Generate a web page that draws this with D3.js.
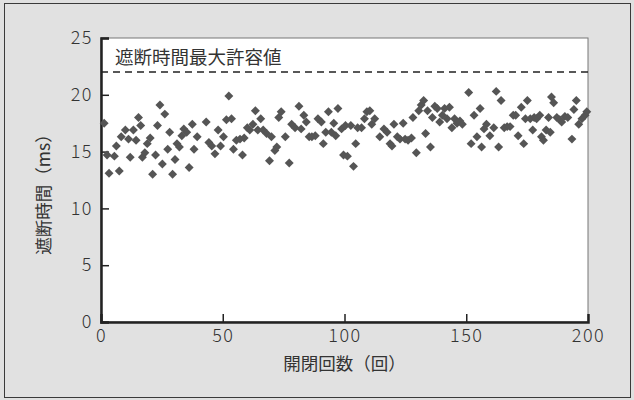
<!DOCTYPE html>
<html>
<head>
<meta charset="utf-8">
<script src="https://cdnjs.cloudflare.com/ajax/libs/d3/7.8.5/d3.min.js"></script>
<style>
  body { margin: 0; background: #e0e0e0; }
  svg { display: block; }
  text { font-family: "Noto Sans CJK JP", "Noto Sans", sans-serif; fill: #333; }
</style>
</head>
<body>
<svg id="chart"></svg>
<script>
// open/close cycle number and break time (ms)
var cycles = [1.3,2.5,3.3,5.5,6.3,7.5,8.3,10,11.3,12,13.3,14.4,15.4,16.3,17,18,19,20.2,21.2,22.4,
  23.2,24.2,25.2,26.2,27.4,28.2,29.4,30.4,31.2,32.2,33.2,34,35.2,36.2,37.5,38.2,39.5,43.2,44.3,45.5,
  46.8,48.1,49.1,50.3,51.5,52.5,53.6,54.4,55.6,57.1,58.1,58.8,60.1,61.1,62.4,63.4,64.4,65.6,66.6,68,
  69.2,70,71.4,72.2,73,74,75.7,77.3,78.3,79.7,81.3,82.2,83.3,84.3,85.5,86.6,88,89.1,90.5,91.3,
  92.3,93.4,94.6,95.6,96.4,97.3,98.8,99.6,100.4,101.2,102.6,103.7,104.6,105.4,107,108.2,109.2,110.4,111.2,112.4,
  114.5,116.2,117.5,118.7,119.5,120.3,121.7,122.8,124.1,124.9,126.1,127.5,128.1,129.5,130.5,131.5,132.5,133.3,134.1,135.3,
  136.1,137.1,138.1,139.1,140.2,141.1,142.1,143.1,144.1,145.2,146.2,147.4,148.4,151,152,153.2,154.4,155.7,156.3,157.3,
  158.3,159.7,161.3,162.3,163.3,164.3,165.6,166.8,168,169.3,170.3,171.3,172.6,173.6,174.3,175.1,176.3,177.3,177.9,178.9,
  180.2,180.9,181.7,182.8,183.8,184.5,185,185.9,187.2,188.4,189.2,190.5,191.7,193.4,194.2,195.2,196.2,197.5,198.8,199.5];
var breakTimes = [17.5,14.7,13.1,14.6,15.5,13.3,16.3,16.9,16.1,14.5,16.9,16.0,18.0,17.3,14.5,14.9,15.7,16.2,13.0,14.7,
  17.3,19.1,13.9,18.3,15.2,16.7,13.0,14.3,15.7,15.4,16.4,17.0,16.7,13.6,17.4,15.2,16.3,17.6,15.8,15.5,
  14.8,16.9,15.5,16.3,17.8,19.9,17.9,15.2,16.0,16.1,14.7,16.2,17.1,16.9,17.4,18.6,16.9,17.9,16.9,16.6,
  14.2,16.3,15.1,15.4,18.0,18.5,16.3,14.0,17.4,17.1,19.0,17.0,18.2,17.6,16.3,16.3,16.4,17.9,17.6,15.7,
  16.7,18.5,16.7,17.5,16.4,18.8,17.0,14.7,17.3,14.6,17.3,13.7,15.7,17.1,17.1,17.9,18.5,18.6,17.4,17.9,
  16.3,17.0,16.7,15.7,15.5,17.4,16.3,16.1,17.5,16.1,16.0,16.2,18.0,14.9,18.6,19.1,19.5,16.6,18.6,15.4,
  18.0,19.0,18.8,17.6,18.2,18.8,17.9,18.9,17.1,17.9,17.5,17.7,17.4,20.2,15.7,18.2,16.3,18.8,15.4,17.0,
  17.4,16.4,17.1,20.3,15.4,19.5,17.1,17.2,17.2,18.2,18.2,16.4,18.9,15.7,17.9,19.5,17.9,16.9,18.0,17.9,
  18.2,16.3,16.0,16.9,18.0,16.7,19.8,19.3,18.0,17.8,17.6,18.1,18.0,16.1,18.7,19.5,17.4,17.9,18.2,18.5];

var xTicks = [0, 50, 100, 150, 200];
var yTicks = [0, 5, 10, 15, 20, 25];
var limitValue = 22;
var limitLabel = "遮断時間最大許容値";

var w = 634, h = 400;
var margin = {top: 38, right: 46, bottom: 78, left: 101};

var svg = d3.select("#chart")
    .attr("width", w)
    .attr("height", h);

// panel frame
svg.append("rect")
    .attr("x", 4.5)
    .attr("y", 3.5)
    .attr("width", 626)
    .attr("height", 394)
    .attr("fill", "#e1e1e1")
    .attr("stroke", "#3a3a3a")
    .attr("stroke-width", 1);

var xScale = d3.scaleLinear()
    .domain([0, 200])
    .range([margin.left, w - margin.right]);

var yScale = d3.scaleLinear()
    .domain([0, 25])
    .range([h - margin.bottom, margin.top]);

// white plot area
svg.append("rect")
    .attr("x", xScale(0))
    .attr("y", yScale(25))
    .attr("width", xScale(200) - xScale(0))
    .attr("height", yScale(0) - yScale(25))
    .attr("fill", "#fff")
    .attr("stroke", "#777")
    .attr("stroke-width", 1);

// Axes - ticks point inward
var xAxis = d3.axisBottom(xScale)
    .tickValues(xTicks)
    .tickSize(-8)
    .tickPadding(7);

var yAxis = d3.axisLeft(yScale)
    .tickValues(yTicks)
    .tickSize(-8)
    .tickPadding(8);

var gx = svg.append("g")
    .attr("class", "x axis")
    .attr("transform", "translate(0," + yScale(0) + ")")
    .call(xAxis);

var gy = svg.append("g")
    .attr("class", "y axis")
    .attr("transform", "translate(" + xScale(0) + ",0)")
    .call(yAxis);

[gx, gy].forEach(function(g) {
    g.select(".domain").attr("stroke", "#222").attr("stroke-width", 2.5);
    g.selectAll(".tick line").attr("stroke", "#222").attr("stroke-width", 1.5);
    g.selectAll(".tick text")
        .attr("font-size", "18px")
        .attr("font-family", "'DejaVu Sans', sans-serif")
        .attr("font-weight", 200)
        .attr("letter-spacing", "1.5px")
        .attr("fill", "#333");
});
gx.selectAll(".tick line").filter(function(d) { return d === 0 || d === 200; }).remove();
gy.selectAll(".tick line").filter(function(d) { return d === 0; }).remove();

// Allowed maximum line
svg.append("line")
    .attr("x1", xScale(0))
    .attr("x2", xScale(200))
    .attr("y1", yScale(limitValue))
    .attr("y2", yScale(limitValue))
    .attr("stroke", "#222")
    .attr("stroke-width", 1.5)
    .attr("stroke-dasharray", "7,5");

svg.append("text")
    .attr("x", xScale(0) + 14)
    .attr("y", yScale(limitValue) - 8)
    .attr("font-size", "18.5px")
    .text(limitLabel);

// data points as diamonds
var points = cycles.map(function(c, i) {
    return {cycle: c, time: breakTimes[i]};
});

svg.append("g")
    .selectAll("path")
    .data(points)
    .enter()
    .append("path")
    .attr("d", d3.symbol().type(d3.symbolSquare).size(40))
    .attr("transform", function(d) {
        return "translate(" + xScale(d.cycle) + "," + yScale(d.time) + ") rotate(45)";
    })
    .attr("fill", "#555");

// Axis titles
svg.append("text")
    .attr("x", (xScale(0) + xScale(200)) / 2)
    .attr("y", 370)
    .attr("text-anchor", "middle")
    .attr("font-size", "17.5px")
    .text("開閉回数（回）");

svg.append("text")
    .attr("transform", "translate(50," + 190 + ") rotate(-90)")
    .attr("text-anchor", "middle")
    .attr("font-size", "17.5px")
    .text("遮断時間（ms）");
</script>
</body>
</html>
